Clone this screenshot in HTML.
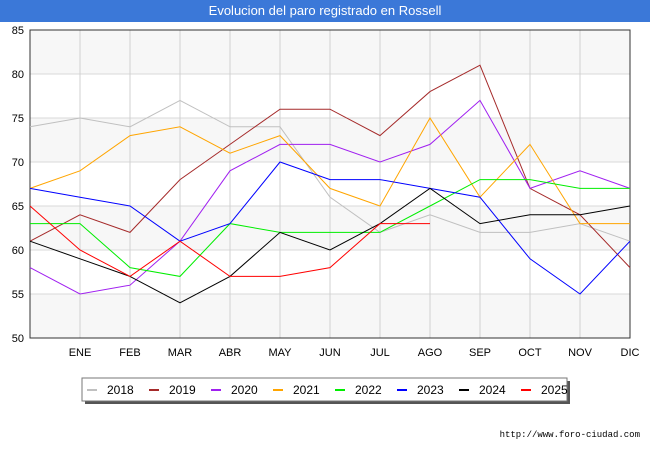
<!DOCTYPE html>
<html><head><meta charset="utf-8"><style>
body{margin:0;width:650px;height:450px;background:#fff;font-family:"Liberation Sans",sans-serif;overflow:hidden;position:relative}
#title{position:absolute;left:0;top:0;width:650px;height:22px;background:#3b78d8;color:#fff;font-size:13px;text-align:center;line-height:22px}
</style></head><body>
<div id="title">Evolucion del paro registrado en Rossell</div>
<svg id="chart" width="650" height="450" style="position:absolute;left:0;top:0"></svg>
<script>
const months=["","ENE","FEB","MAR","ABR","MAY","JUN","JUL","AGO","SEP","OCT","NOV","DIC"];
const yTicks=[50,55,60,65,70,75,80,85];
const years=["2018","2019","2020","2021","2022","2023","2024","2025"];
const colors=["#c0c0c0","#a52a2a","#a020f0","#ffa500","#00ee00","#0000ff","#000000","#ff0000"];
const s2018=[74,75,74,77,74,74,66,62,64,62,62,63,61];
const s2019=[61,64,62,68,72,76,76,73,78,81,67,64,58];
const s2020=[58,55,56,61,69,72,72,70,72,77,67,69,67];
const s2021=[67,69,73,74,71,73,67,65,75,66,72,63,63];
const s2022=[63,63,58,57,63,62,62,62,65,68,68,67,67];
const s2023=[67,66,65,61,63,70,68,68,67,66,59,55,61];
const s2024=[61,59,57,54,57,62,60,63,67,63,64,64,65];
const s2025=[65,60,57,61,57,57,58,63,63];
const series=[s2018,s2019,s2020,s2021,s2022,s2023,s2024,s2025];
const NS="http://www.w3.org/2000/svg";
const svg=document.getElementById('chart');
const X0=30,X1=630,Y0=338,Y1=30;
const xs=i=>X0+i*(X1-X0)/12;
const ys=v=>Y0-(v-50)*(Y0-Y1)/35;
function mk(t,a,p){const e=document.createElementNS(NS,t);for(const k in a)e.setAttribute(k,a[k]);(p||svg).appendChild(e);return e;}
for(let i=0;i<yTicks.length-1;i++){
 if(i%2===0){const r=mk('rect',{x:X0,y:ys(yTicks[i+1]),width:X1-X0,height:ys(yTicks[i])-ys(yTicks[i+1]),fill:'#f7f7f7'});
 
 }
}
yTicks.forEach(v=>{
 const l=mk('line',{x1:X0,x2:X1,y1:ys(v),y2:ys(v),stroke:'#d8d8d8','stroke-width':1});
 
 
 const t=mk('text',{x:X0-6,y:ys(v)+4,'text-anchor':'end','font-size':11,fill:'#000'});
 t.textContent=v;
 
 
});
months.forEach((m,i)=>{
 if(i>0){const l=mk('line',{x1:xs(i),x2:xs(i),y1:Y1,y2:Y0,stroke:'#d0d0d0','stroke-width':1});
 
 }
 const t=mk('text',{x:xs(i),y:Y0+18,'text-anchor':'middle','font-size':11,fill:'#000'});
 t.textContent=m;
 
 
});
const frame=mk('rect',{x:X0,y:Y1,width:X1-X0,height:Y0-Y1,fill:'none',stroke:'#333','stroke-width':1});


series.forEach((s,k)=>{
 const p=mk('polyline',{points:s.map((v,i)=>xs(i)+','+ys(v)).join(' '),fill:'none',stroke:colors[k],'stroke-width':1});
 
 
});
const lg=mk('g',{});


mk('rect',{x:85,y:381,width:485,height:23,fill:'#555'},lg);
mk('rect',{x:82,y:378,width:485,height:23,fill:'#fff',stroke:'#777'},lg);
years.forEach((y,k)=>{
 const x=87+k*62;
 const sw=mk('rect',{x:x,y:389,width:10,height:2,fill:colors[k]},lg);
 
 
 const t=mk('text',{x:x+20,y:394,'font-size':12,fill:'#000'},lg);
 t.textContent=y;
 
 
});
const u=mk('text',{x:640,y:437,'text-anchor':'end','font-size':9,fill:'#000','font-family':'Liberation Mono, monospace'});
u.textContent='http://www.foro-ciudad.com';


</script>
</body></html>
